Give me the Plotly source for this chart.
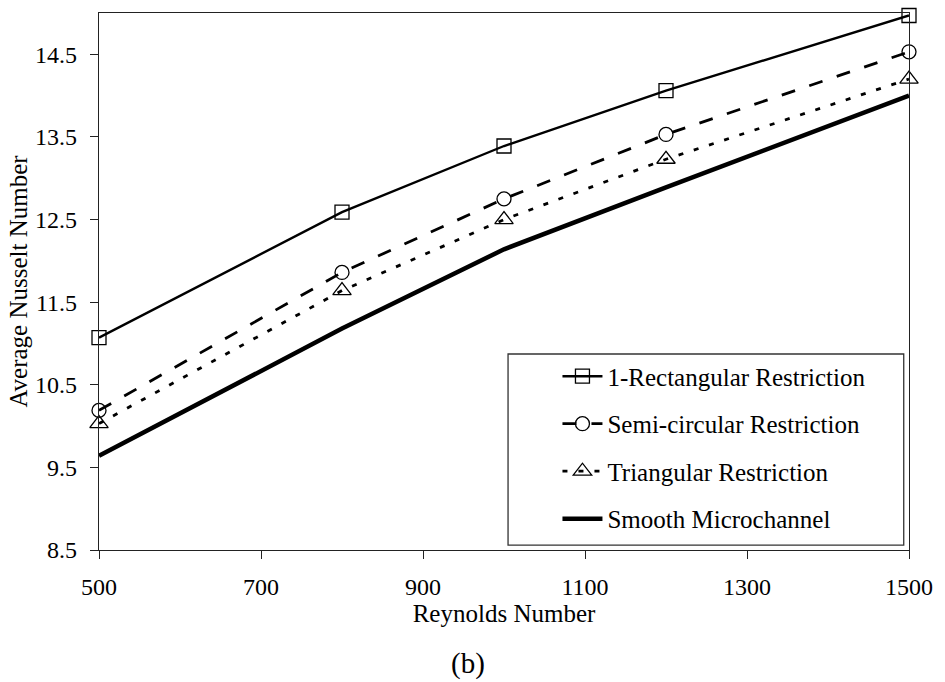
import plotly.graph_objects as go

# Reynolds numbers and average Nusselt numbers for each channel geometry
reynolds = [500, 800, 1000, 1200, 1500]
rect_nu = [11.07, 12.59, 13.39, 14.06, 14.97]
semi_nu = [10.19, 11.86, 12.75, 13.53, 14.53]
tri_nu = [10.03, 11.64, 12.50, 13.23, 14.20]
smooth_nu = [9.64, 11.18, 12.14, 12.89, 14.00]

series_names = [
    "1-Rectangular Restriction",
    "Semi-circular Restriction",
    "Triangular Restriction",
    "Smooth Microchannel",
]

FONT = "Liberation Serif, Times New Roman, serif"
INK = "#000000"

fig = go.Figure()

fig.add_trace(go.Scatter(
    x=reynolds, y=rect_nu, name=series_names[0], mode="lines+markers",
    line=dict(color=INK, width=2.4),
    marker=dict(symbol="square-open", size=14, color=INK, line=dict(width=1.3, color="#222")),
    cliponaxis=False, legendgroup="a",
))
fig.add_trace(go.Scatter(
    x=reynolds, y=semi_nu, name=series_names[1], mode="lines+markers",
    line=dict(color=INK, width=2.8, dash="14px,15px"),
    marker=dict(symbol="circle-open", size=14, color=INK, line=dict(width=1.3, color="#222")),
    cliponaxis=False, legendgroup="b",
))
fig.add_trace(go.Scatter(
    x=reynolds, y=tri_nu, name=series_names[2], mode="lines+markers",
    line=dict(color=INK, width=2.8, dash="5px,11px"),
    marker=dict(symbol="triangle-up-open", size=16, color=INK, line=dict(width=1.3, color="#222")),
    cliponaxis=False, legendgroup="c",
))
fig.add_trace(go.Scatter(
    x=reynolds, y=smooth_nu, name=series_names[3], mode="lines",
    line=dict(color=INK, width=4.5),
    cliponaxis=False, legendgroup="d",
))

axis_common = dict(
    showgrid=False, zeroline=False, showline=True, linecolor="#222", linewidth=1.2,
    mirror=True, ticks="outside", ticklen=8, tickwidth=1.2, tickcolor="#222",
    tickfont=dict(family=FONT, size=24, color=INK),
)

fig.update_xaxes(
    range=[500, 1500], tick0=500, dtick=200, ticklabelstandoff=7, **axis_common,
    title=dict(text="Reynolds Number", font=dict(family=FONT, size=25, color=INK), standoff=3),
)
fig.update_yaxes(
    range=[8.5, 15.0], tick0=8.5, dtick=1, tickformat=".1f", ticklabelstandoff=8, **axis_common,
    title=dict(text="Average Nusselt Number", font=dict(family=FONT, size=25, color=INK), standoff=0),
)

# legend frame
fig.add_shape(type="rect", xref="paper", yref="paper",
              x0=0.505, x1=0.9935, y0=0.009, y1=0.365,
              line=dict(color="#333", width=1.3), fillcolor="white", layer="below")

fig.update_layout(
    width=945, height=682,
    margin=dict(l=99, r=32, t=12, b=132),
    paper_bgcolor="white", plot_bgcolor="white",
    font=dict(family=FONT, size=25, color=INK),
    legend=dict(
        x=0.566, y=0.366, xanchor="left", yanchor="top",
        bgcolor="rgba(0,0,0,0)", borderwidth=0,
        font=dict(family=FONT, size=25, color=INK),
        tracegroupgap=12, traceorder="grouped", itemwidth=40,
    ),
    annotations=[dict(
        text="(b)", xref="paper", yref="paper", x=0.455, y=-0.211,
        xanchor="center", yanchor="middle", showarrow=False,
        font=dict(family=FONT, size=29, color=INK),
    )],
)

fig.write_html("out.html")
